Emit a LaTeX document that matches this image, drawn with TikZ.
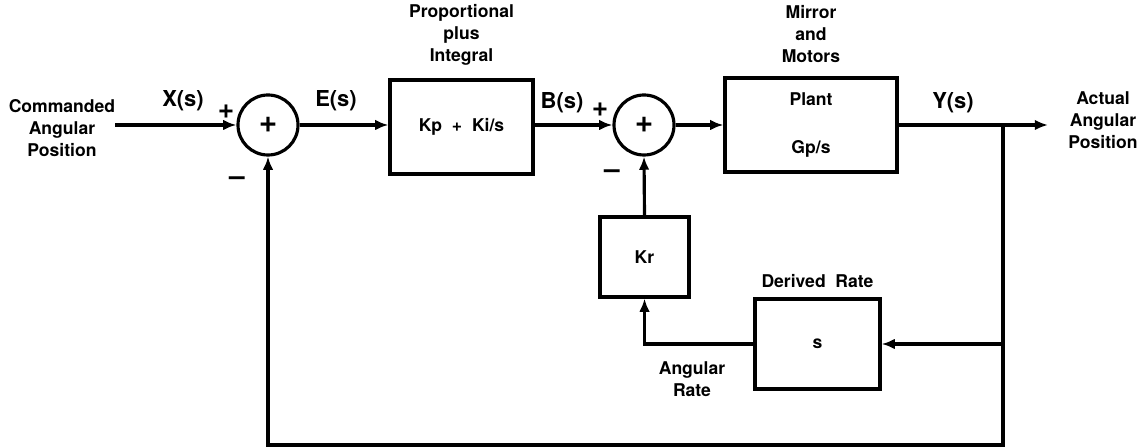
\documentclass[tikz,border=0pt]{standalone}
\usepackage{fontspec}
\setmainfont{TeX Gyre Heros}
\usepackage{tikz}
\usetikzlibrary{arrows.meta, positioning}

\begin{document}
\begin{tikzpicture}[>={Latex[length=7.5pt,width=6pt]}, line width=1.8pt,
  font=\bfseries\fontsize{10}{12.5}\selectfont,
  block/.style={draw, inner sep=0pt, align=center},
  sumnode/.style={draw, circle, minimum size=1.2cm, inner sep=0pt, font=\bfseries\fontsize{18}{18}\selectfont},
  sig/.style={font=\bfseries\fontsize{12.5}{14}\selectfont},
  sgn/.style={font=\bfseries\fontsize{16}{16}\selectfont},
  txt/.style={align=center}]
  \useasboundingbox (0,0) rectangle (22.78,-8.96);

  \node[sumnode] (s1) at (5.36,-2.5) {+};
  \node[sumnode] (s2) at (12.88,-2.5) {+};
  \node[block, minimum width=2.86cm, minimum height=1.88cm] (pi) at (9.23,-2.54) {Kp~~+~~Ki/s};
  \node[block, minimum width=3.44cm, minimum height=1.88cm] (plant) at (16.22,-2.5) {Plant\\[15pt]Gp/s};
  \node[block, minimum width=1.78cm, minimum height=1.6cm] (kr) at (12.89,-5.14) {Kr};
  \node[block, minimum width=2.5cm, minimum height=1.8cm] (der) at (16.35,-6.88) {s};

  \node[txt] (cmd) at (1.24,-2.56) {Commanded\\Angular\\Position};
  \node[txt] (act) at (22.06,-2.4) {Actual\\Angular\\Position};
  \node[txt, above=0.12cm of pi] (pilbl) {Proportional\\plus\\Integral};
  \node[txt, above=0.12cm of plant] (plantlbl) {Mirror\\and\\Motors};
  \node[txt, above=0.05cm of der] (derlbl) {Derived~~Rate};
  \node[txt] (ratelbl) at (13.84,-7.58) {Angular\\Rate};

  \node[sig] (xs) at (3.66,-2.02) {X(s)};
  \node[sig] (es) at (6.72,-2.02) {E(s)};
  \node[sig] (bs) at (11.24,-2.06) {B(s)};
  \node[sig] (ys) at (19.06,-2.06) {Y(s)};
  \node[sgn] (p1) at (4.52,-2.24) {+};
  \node[sgn] (m1) at (4.74,-3.62) {--};
  \node[sgn] (p2) at (12.0,-2.2) {+};
  \node[sgn] (m2) at (12.24,-3.48) {--};

  \coordinate (in) at (2.3,-2.5);
  \coordinate (br) at (20.06,-2.5);
  \coordinate (out) at (20.96,-2.5);
  \coordinate (bot) at (20.06,-8.9);
  \draw[->] (in) -- (s1.west);
  \draw[->] (s1.east) -- (pi.west |- s1.east);
  \draw[->] (pi.east |- s2.west) -- (s2.west);
  \draw[->] (s2.east) -- (plant.west);
  \draw[->] (plant.east) -- (out);
  \draw[->] (br) -- (bot) -| (s1.south);
  \draw[->] (br |- der.east) -- (der.east);
  \draw[->] (der.west) -| (kr.south);
  \draw[->] (kr.north) -- (s2.south);
\end{tikzpicture}
\end{document}
